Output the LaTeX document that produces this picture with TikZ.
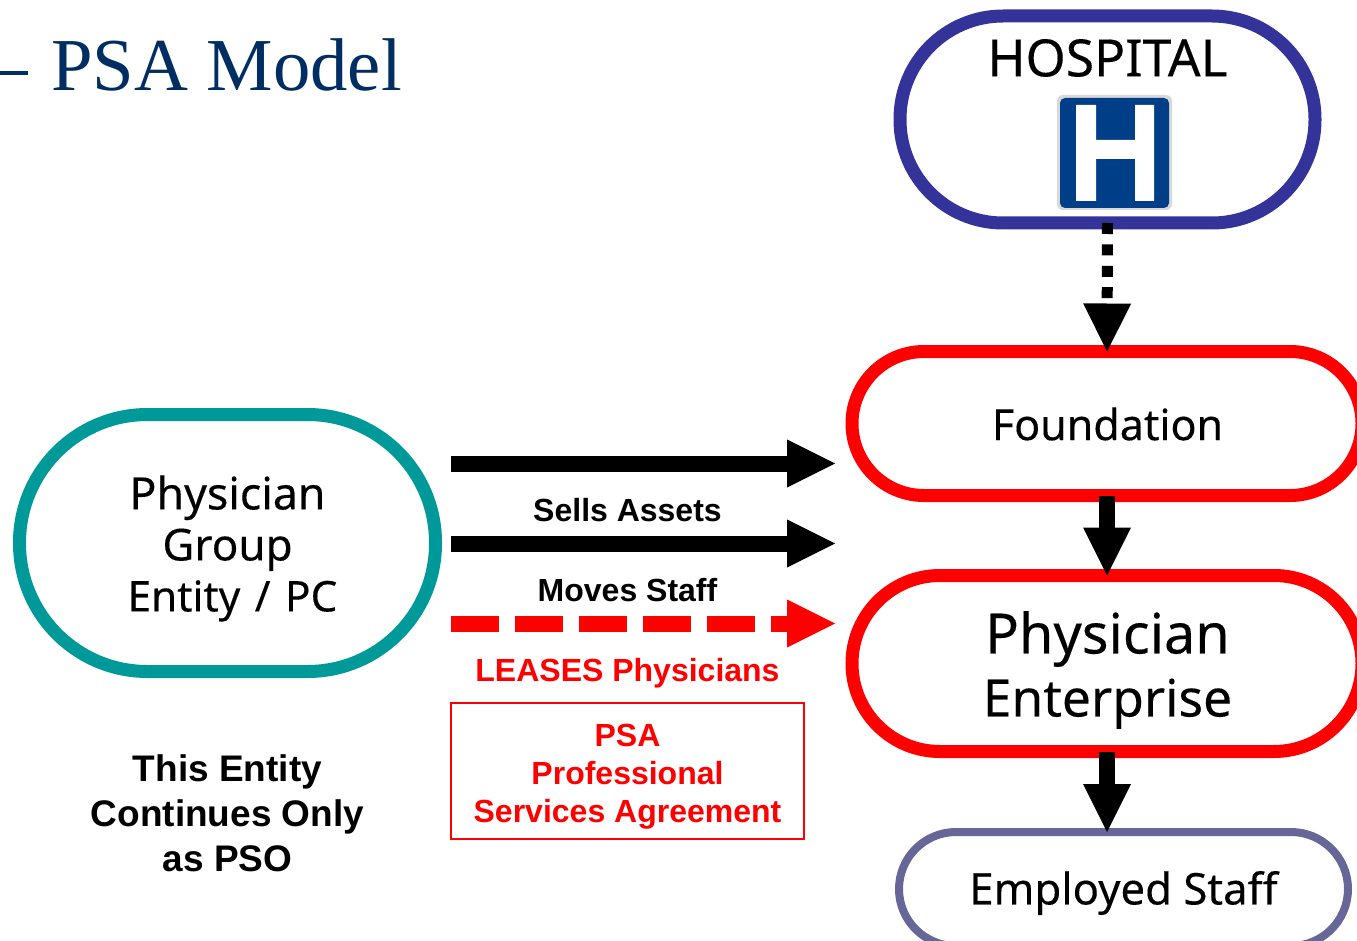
\documentclass[tikz,border=0pt]{standalone}
\usepackage{fontspec}
\setmainfont{Liberation Sans}
\newfontfamily\titlefont{Liberation Serif}
\newfontfamily\boxfont[FakeBold=0.25]{Noto Sans}
\usetikzlibrary{arrows.meta}
\definecolor{titleblue}{HTML}{002D62}
\definecolor{hospblue}{HTML}{333399}
\definecolor{signblue}{HTML}{003F87}
\definecolor{signgrey}{HTML}{D8D8D8}
\definecolor{groupteal}{HTML}{009999}
\definecolor{staffviolet}{HTML}{666699}
\newcommand{\fs}[2]{\fontsize{#1}{#2}\selectfont}
\tikzset{
  pill/.style={draw=#1,fill=white,inner sep=0pt,outer sep=0pt,line width=13pt},
  boxtext/.style={font=\boxfont\fontsize{#1}{#1}\selectfont,inner sep=0pt,align=center,text=black},
  lab/.style={font=\bfseries\fontsize{32}{38}\selectfont,inner sep=0pt,align=center},
  bigarrow/.style={line width=16pt,-{Triangle[length=48pt,width=48pt,line width=0pt]}},
}
\begin{document}
\begin{tikzpicture}[x=1pt,y=-1pt]
\useasboundingbox (0,0) rectangle (1357,941);
\clip (0,0) rectangle (1357,941);
\fill[white] (0,0) rectangle (1357,941);
% title
\node[anchor=base west,inner sep=0pt,text=titleblue,font=\titlefont\fontsize{74.7}{75}\selectfont] (title) at (51,90.5) {PSA Model};
\coordinate (rulel) at (0,73); \coordinate (ruler) at (28,73);
\draw[titleblue,line width=4pt] (rulel) -- (ruler);
% pills
\node[pill=hospblue,minimum width=415pt,minimum height=207pt,rounded corners=103pt] (hospital) at (1107.5,119.5) {};
\node[pill=red,minimum width=510pt,minimum height=144pt,rounded corners=72pt] (foundation) at (1107,423.5) {};
\node[pill=red,minimum width=510pt,minimum height=176pt,rounded corners=88pt] (enterprise) at (1107,663.5) {};
\node[pill=staffviolet,line width=8pt,minimum width=449pt,minimum height=114pt,rounded corners=57pt] (staff) at (1123.5,889) {};
\node[pill=groupteal,minimum width=416pt,minimum height=257pt,rounded corners=128pt] (group) at (227.5,543) {};
% pill texts
\node[boxtext=51.5] (hosptext) at (1107.5,58) {HOSPITAL};
\node[boxtext=43] (foundtext) at (1107.5,424) {Foundation};
\node[boxtext=52,text width=400pt,font=\boxfont\fontsize{53.5}{63}\selectfont] (enttext) at (1107.5,670) {\fs{55.7}{63}Physician\\\fs{51.5}{63}Enterprise};
\node[boxtext=43.7] (stafftext) at (1123.5,893) {Employed Staff};
\node[boxtext=42,text width=400pt,font=\boxfont\fontsize{43.5}{51}\selectfont] (grouptext) at (227.5,548.5) {\fs{44.7}{51}Physician\\\fs{44}{51}Group\\\fs{42.3}{51}\hspace*{10pt}Entity / PC};
% hospital sign
\node[draw=none,fill=signgrey,minimum width=115pt,minimum height=115pt,inner sep=0pt,rounded corners=6pt] (signback) at (1114.5,152.5) {};
\node[fill=signblue,minimum width=109pt,minimum height=110pt,inner sep=0pt,rounded corners=5pt] (sign) at (1114.5,153) {};
\fill[white] (1076,105) rectangle (1096,201) (1135,105) rectangle (1154,201) (1096,140) rectangle (1135,159);
% arrows
\coordinate (a1s) at (451,463.5); \coordinate (a1e) at (835,463.5);
\coordinate (a2s) at (451,543.5); \coordinate (a2e) at (835,543.5);
\coordinate (a3s) at (451,623.5); \coordinate (a3e) at (835,623.5);
\draw[bigarrow] (a1s) -- (a1e);
\draw[bigarrow] (a2s) -- (a2e);
\draw[bigarrow,red,dash pattern=on 48pt off 16pt] (a3s) -- (a3e);
\draw[line width=11pt,dash pattern=on 11pt off 10.4pt,-{Triangle[length=48pt,width=48pt,line width=0pt]}] (hospital.south) -- (foundation.north);
\draw[bigarrow] (foundation.south) -- (enterprise.north);
\draw[bigarrow] (enterprise.south) -- (enterprise.south |- staff.north);
% labels
\node[lab] (sells) at (627.5,510) {Sells Assets};
\node[lab] (moves) at (627.5,590) {Moves Staff};
\node[lab,text=red] (leases) at (627.5,673) {LEASES Physicians};
\node[lab,text=red,draw=red,line width=2pt,minimum width=353pt,minimum height=136pt,outer sep=0pt,text depth=0pt] (psa) at (627.5,771) {};
\node[lab,text=red] (psatext) at (627.5,777) {PSA\\Professional\\Services Agreement};
\node[lab,font=\bfseries\fontsize{37}{45}\selectfont] (entity) at (227.5,813) {This Entity\\Continues Only\\as PSO};
\end{tikzpicture}
\end{document}
